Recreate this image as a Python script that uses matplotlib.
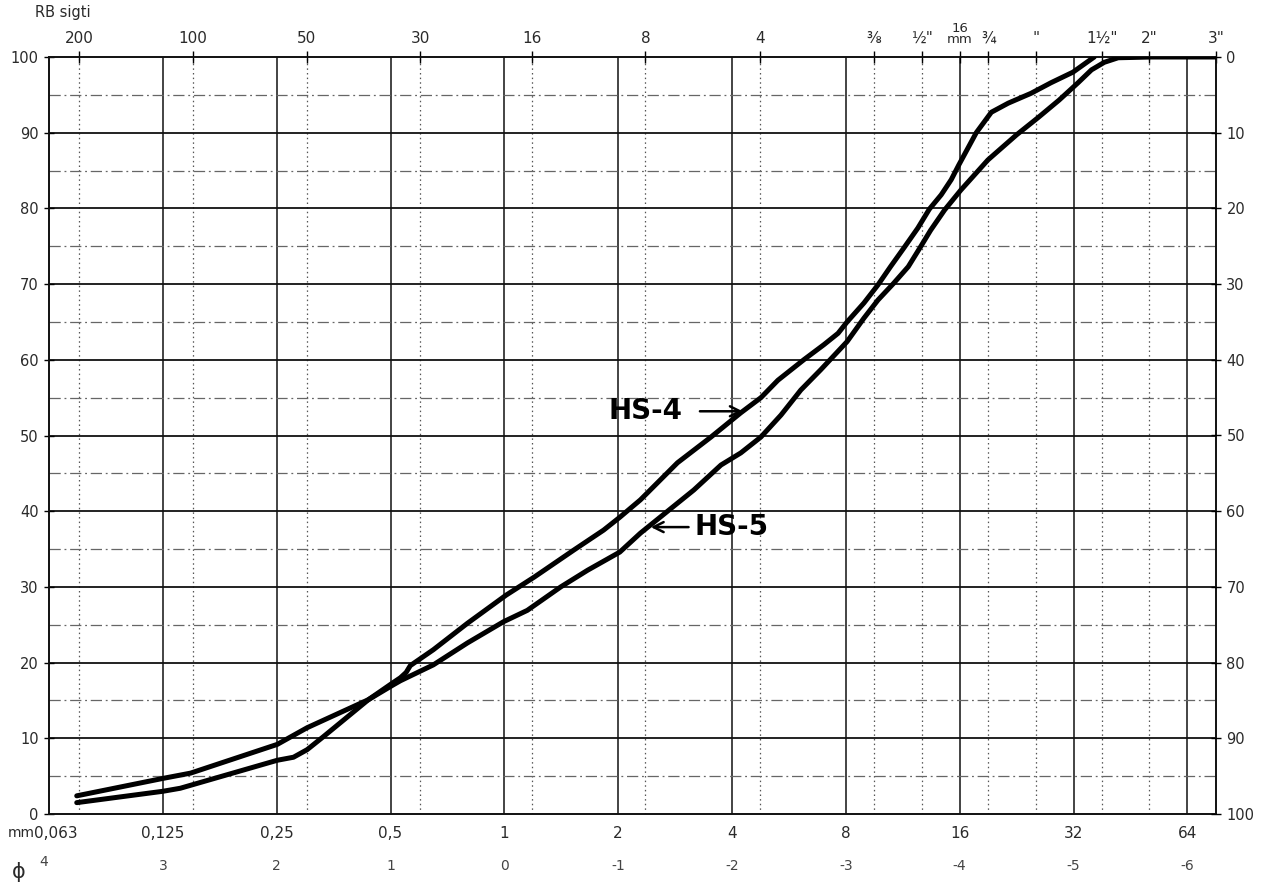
import matplotlib
matplotlib.use("Agg")
import matplotlib.pyplot as plt
from matplotlib.ticker import FixedLocator, NullLocator

# Cumulative grain-size curves: grain size (mm) and percent passing
hs4_mm = [0.074, 0.125, 0.148, 0.251, 0.301, 0.437, 0.506, 0.531, 0.55, 0.564,
          0.649, 0.799, 1.01, 1.20, 1.53, 1.83, 2.02, 2.29, 2.87, 3.52, 4.22,
          4.77, 5.29, 6.19, 7.00, 7.63, 8.06, 8.93, 9.73, 10.5, 11.4, 12.4,
          13.3, 14.3, 15.2, 15.9, 17.7, 19.4, 21.5, 24.7, 27.9, 31.9, 36.3]
hs4_pct = [2.4, 4.7, 5.4, 9.2, 11.4, 15.1, 17.3, 18.0, 18.7, 19.6,
           21.7, 25.2, 28.9, 31.3, 34.9, 37.5, 39.2, 41.5, 46.4, 49.8, 53.0,
           55.0, 57.3, 60.0, 62.0, 63.5, 65.0, 67.5, 69.9, 72.3, 74.8, 77.4,
           79.9, 81.8, 83.8, 85.7, 90.0, 92.7, 93.9, 95.2, 96.6, 98.0, 100.0]

hs5_mm = [0.074, 0.125, 0.139, 0.251, 0.277, 0.301, 0.332, 0.437, 0.506, 0.531,
          0.649, 0.799, 0.995, 1.15, 1.41, 1.66, 2.02, 2.29, 3.17, 3.74, 4.22,
          4.77, 5.39, 6.08, 6.87, 8.06, 8.93, 9.73, 10.7, 11.7, 12.6, 13.4,
          14.6, 16.1, 19.0, 22.6, 25.8, 29.3, 32.9, 35.7, 38.6, 42.0, 51.4, 76.2]
hs5_pct = [1.5, 3.0, 3.4, 7.1, 7.5, 8.5, 10.2, 15.1, 17.0, 17.6,
           19.7, 22.6, 25.4, 26.9, 30.0, 32.2, 34.6, 37.1, 42.8, 46.1, 47.7,
           49.8, 52.7, 56.0, 58.7, 62.4, 65.5, 67.9, 70.1, 72.3, 74.9, 77.1,
           79.8, 82.4, 86.4, 89.7, 92.0, 94.3, 96.6, 98.3, 99.3, 99.9, 100.0, 100.0]

# Bottom scales: millimetres and phi units
mm_ticks = [0.125, 0.25, 0.5, 1, 2, 4, 8, 16, 32, 64]
mm_labels = ["0,125", "0,25", "0,5", "1", "2", "4", "8", "16", "32", "64"]
phi_labels = ["3", "2", "1", "0", "-1", "-2", "-3", "-4", "-5", "-6"]

# Top scale: sieve openings (mm) and their names
sieve_mm = [0.075, 0.15, 0.3, 0.6, 1.18, 2.36, 4.75, 9.5, 12.7, 16.0,
            19.05, 25.4, 38.1, 50.8, 76.2]
sieve_labels = ["200", "100", "50", "30", "16", "8", "4", "⅜", "½\"",
                "16\nmm", "¾", "\"", "1½\"", "2\"", "3\""]

pct_ticks = [0, 10, 20, 30, 40, 50, 60, 70, 80, 90, 100]

X_MIN, X_MAX = 0.0625, 76.2

fig = plt.figure(figsize=(12.66, 8.83), dpi=100)
W, H = 1266, 883
ax = fig.add_axes([49 / W, (H - 814) / H, (1216 - 49) / W, (814 - 57) / H])
ax.set_xscale("log", base=2)
ax.set_xlim(X_MIN, X_MAX)
ax.set_ylim(0, 100)

ink = "#111111"
txt = "#2a2a2a"

# grid: solid lines at whole phi and every 10 %, lighter lines between
for v in mm_ticks:
    ax.axvline(v, color=ink, lw=1.1, zorder=1)
for v in sieve_mm:
    if v not in (16.0, 76.2):
        ax.axvline(v, color="#555555", lw=0.9, ls=(0, (1.2, 2.5)), zorder=1)
for p in range(10, 100, 10):
    ax.axhline(p, color=ink, lw=1.3, zorder=1)
for p in range(5, 100, 10):
    ax.axhline(p, color="#666666", lw=0.9, ls=(0, (9, 3, 1.5, 3)), zorder=1)

for s in ax.spines.values():
    s.set_color(ink)
    s.set_linewidth(1.4)

# curves
ax.plot(hs4_mm, hs4_pct, color="black", lw=3.6, solid_capstyle="round",
        solid_joinstyle="round", zorder=3)
ax.plot(hs5_mm, hs5_pct, color="black", lw=3.6, solid_capstyle="round",
        solid_joinstyle="round", zorder=3)

# left percent axis
ax.yaxis.set_major_locator(FixedLocator(pct_ticks))
ax.set_yticklabels([str(p) for p in pct_ticks])
ax.tick_params(axis="y", which="both", direction="inout", length=7, width=1,
               labelsize=10.5, labelcolor=txt, pad=4)

# right percent axis, reversed
axr = ax.twinx()
axr.set_ylim(100, 0)
axr.set_xscale("log", base=2)
axr.set_xlim(X_MIN, X_MAX)
axr.yaxis.set_major_locator(FixedLocator(pct_ticks))
axr.set_yticklabels([str(p) for p in pct_ticks])
axr.tick_params(axis="y", direction="inout", length=7, width=1,
                labelsize=10.5, labelcolor=txt, pad=4)
for s in axr.spines.values():
    s.set_visible(False)

# top sieve axis
ax.xaxis.set_major_locator(FixedLocator(sieve_mm))
ax.xaxis.set_minor_locator(NullLocator())
ax.xaxis.tick_top()
ax.set_xticklabels(sieve_labels)
ax.tick_params(axis="x", which="both", direction="inout", length=8, width=1,
               labelsize=11, labelcolor=txt, pad=4)
for lab in ax.get_xticklabels():
    if "mm" in lab.get_text():
        lab.set_fontsize(9.5)
        lab.set_linespacing(0.8)
fig.text(35 / W, 1 - 12 / H, "RB sigti", ha="left", va="center",
         fontsize=10.5, color=txt)

# bottom scales
tr = ax.get_xaxis_transform()
row1 = -19 / 757
row2 = -52 / 757
for v, lab, ph in zip(mm_ticks, mm_labels, phi_labels):
    ax.text(v, row1, lab, transform=tr, ha="center", va="center",
            fontsize=11, color=txt, clip_on=False)
    ax.text(v, row2, ph, transform=tr, ha="center", va="center",
            fontsize=10, color="#444444", clip_on=False)
ax.text(X_MIN * 1.04, row1, "0,063", transform=tr, ha="center", va="center",
        fontsize=11, color=txt, clip_on=False)
fig.text(8 / W, 1 - 833 / H, "mm", ha="left", va="center", fontsize=10,
         color=txt)
ax.text(X_MIN * 0.97, row2 + 4 / 757, "4", transform=tr, ha="center", va="center",
        fontsize=10, color="#444444", clip_on=False)
fig.text(12 / W, 1 - 872 / H, "ϕ", ha="left", va="center", fontsize=15,
         color=txt)

# curve labels with arrows
ax.text(2.36, 53.2, "HS-4", ha="center", va="center", fontsize=20,
        fontweight="bold", color="black", zorder=4)
ax.annotate("", xy=(4.27, 53.2), xytext=(3.29, 53.2),
            arrowprops=dict(arrowstyle="->", lw=1.8, color="black",
                            mutation_scale=18, shrinkA=0, shrinkB=0), zorder=4)
ax.text(3.99, 37.9, "HS-5", ha="center", va="center", fontsize=20,
        fontweight="bold", color="black", zorder=4)
ax.annotate("", xy=(2.44, 37.9), xytext=(3.07, 37.9),
            arrowprops=dict(arrowstyle="->", lw=1.8, color="black",
                            mutation_scale=18, shrinkA=0, shrinkB=0), zorder=4)

fig.savefig("out.png", dpi=100, facecolor="white")
